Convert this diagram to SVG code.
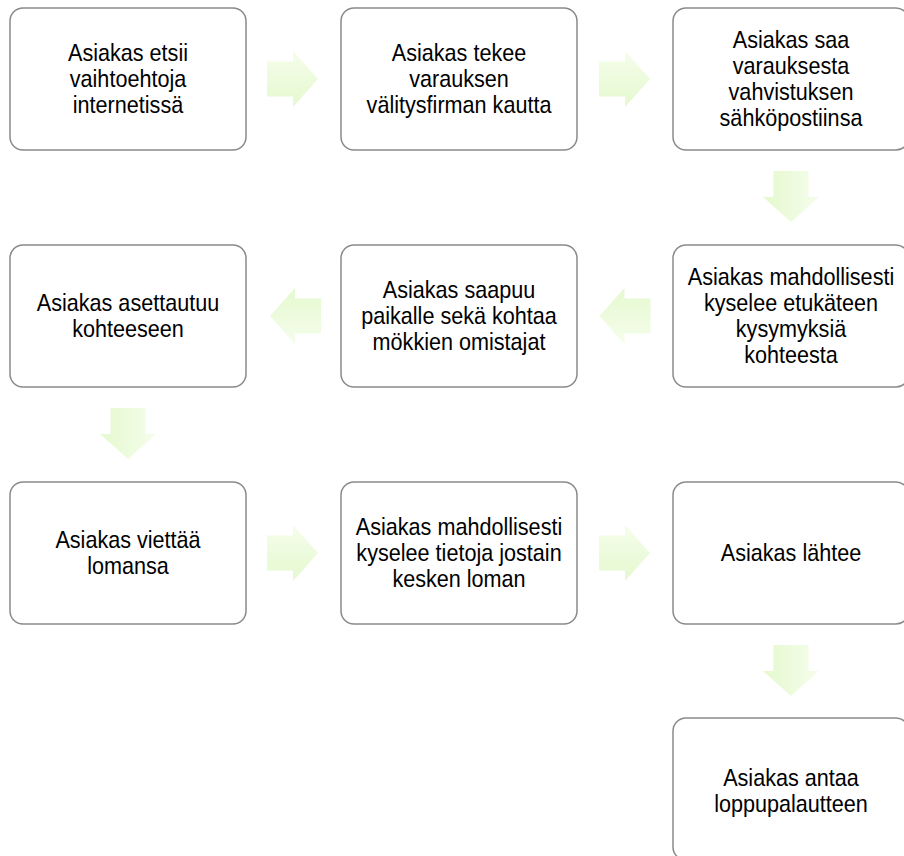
<svg xmlns="http://www.w3.org/2000/svg" width="904" height="856" viewBox="0 0 904 856">
<defs>
<linearGradient id="ag" x1="0" y1="0" x2="0" y2="1">
<stop offset="0" stop-color="#f5fdeb"/>
<stop offset="1" stop-color="#e5f9cf"/>
</linearGradient>
<path id="arR" d="M0,-17.5 H26 V-28 L51,0 L26,28 V17.5 H0 Z"/>
</defs>
<style>
.box{fill:#fff;stroke:#8a8a8a;stroke-width:1.5}
.t{font-family:"Liberation Sans",Arial,sans-serif;font-size:24px;fill:#000;text-anchor:middle}
.arr{fill:url(#ag)}
</style>
<rect width="904" height="856" fill="#fff"/>
<g id="connectors">
<use href="#arR" class="arr" transform="translate(267 79)"/>
<use href="#arR" class="arr" transform="translate(599 79)"/>
<use href="#arR" class="arr" transform="translate(791 171) rotate(90)"/>
<use href="#arR" class="arr" transform="translate(650.5 316) rotate(180)"/>
<use href="#arR" class="arr" transform="translate(321 316) rotate(180)"/>
<use href="#arR" class="arr" transform="translate(128 408) rotate(90)"/>
<use href="#arR" class="arr" transform="translate(267 553)"/>
<use href="#arR" class="arr" transform="translate(599 553)"/>
<use href="#arR" class="arr" transform="translate(791 645) rotate(90)"/>
</g>
<g id="n1">
<rect class="box" x="10" y="8" width="236" height="142" rx="13"/>
<text class="t" transform="translate(128 0) scale(0.9 1)"><tspan x="0" y="61">Asiakas etsii</tspan><tspan x="0" y="87">vaihtoehtoja</tspan><tspan x="0" y="113">internetissä</tspan></text>
</g>
<g id="n2">
<rect class="box" x="341" y="8" width="236" height="142" rx="13"/>
<text class="t" transform="translate(459 0) scale(0.9 1)"><tspan x="0" y="61">Asiakas tekee</tspan><tspan x="0" y="87">varauksen</tspan><tspan x="0" y="113">välitysfirman kautta</tspan></text>
</g>
<g id="n3">
<rect class="box" x="673" y="8" width="236" height="142" rx="13"/>
<text class="t" transform="translate(791 0) scale(0.9 1)"><tspan x="0" y="48">Asiakas saa</tspan><tspan x="0" y="74">varauksesta</tspan><tspan x="0" y="100">vahvistuksen</tspan><tspan x="0" y="126">sähköpostiinsa</tspan></text>
</g>
<g id="n4">
<rect class="box" x="673" y="245" width="236" height="142" rx="13"/>
<text class="t" transform="translate(791 0) scale(0.9 1)"><tspan x="0" y="285">Asiakas mahdollisesti</tspan><tspan x="0" y="311">kyselee etukäteen</tspan><tspan x="0" y="337">kysymyksiä</tspan><tspan x="0" y="363">kohteesta</tspan></text>
</g>
<g id="n5">
<rect class="box" x="341" y="245" width="236" height="142" rx="13"/>
<text class="t" transform="translate(459 0) scale(0.9 1)"><tspan x="0" y="298">Asiakas saapuu</tspan><tspan x="0" y="324">paikalle sekä kohtaa</tspan><tspan x="0" y="350">mökkien omistajat</tspan></text>
</g>
<g id="n6">
<rect class="box" x="10" y="245" width="236" height="142" rx="13"/>
<text class="t" transform="translate(128 0) scale(0.9 1)"><tspan x="0" y="311">Asiakas asettautuu</tspan><tspan x="0" y="337">kohteeseen</tspan></text>
</g>
<g id="n7">
<rect class="box" x="10" y="482" width="236" height="142" rx="13"/>
<text class="t" transform="translate(128 0) scale(0.9 1)"><tspan x="0" y="548">Asiakas viettää</tspan><tspan x="0" y="574">lomansa</tspan></text>
</g>
<g id="n8">
<rect class="box" x="341" y="482" width="236" height="142" rx="13"/>
<text class="t" transform="translate(459 0) scale(0.9 1)"><tspan x="0" y="535">Asiakas mahdollisesti</tspan><tspan x="0" y="561">kyselee tietoja jostain</tspan><tspan x="0" y="587">kesken loman</tspan></text>
</g>
<g id="n9">
<rect class="box" x="673" y="482" width="236" height="142" rx="13"/>
<text class="t" transform="translate(791 0) scale(0.9 1)"><tspan x="0" y="561">Asiakas lähtee</tspan></text>
</g>
<g id="n10">
<rect class="box" x="673" y="718" width="236" height="142" rx="13"/>
<text class="t" transform="translate(791 0) scale(0.9 1)"><tspan x="0" y="786">Asiakas antaa</tspan><tspan x="0" y="812">loppupalautteen</tspan></text>
</g>
</svg>
